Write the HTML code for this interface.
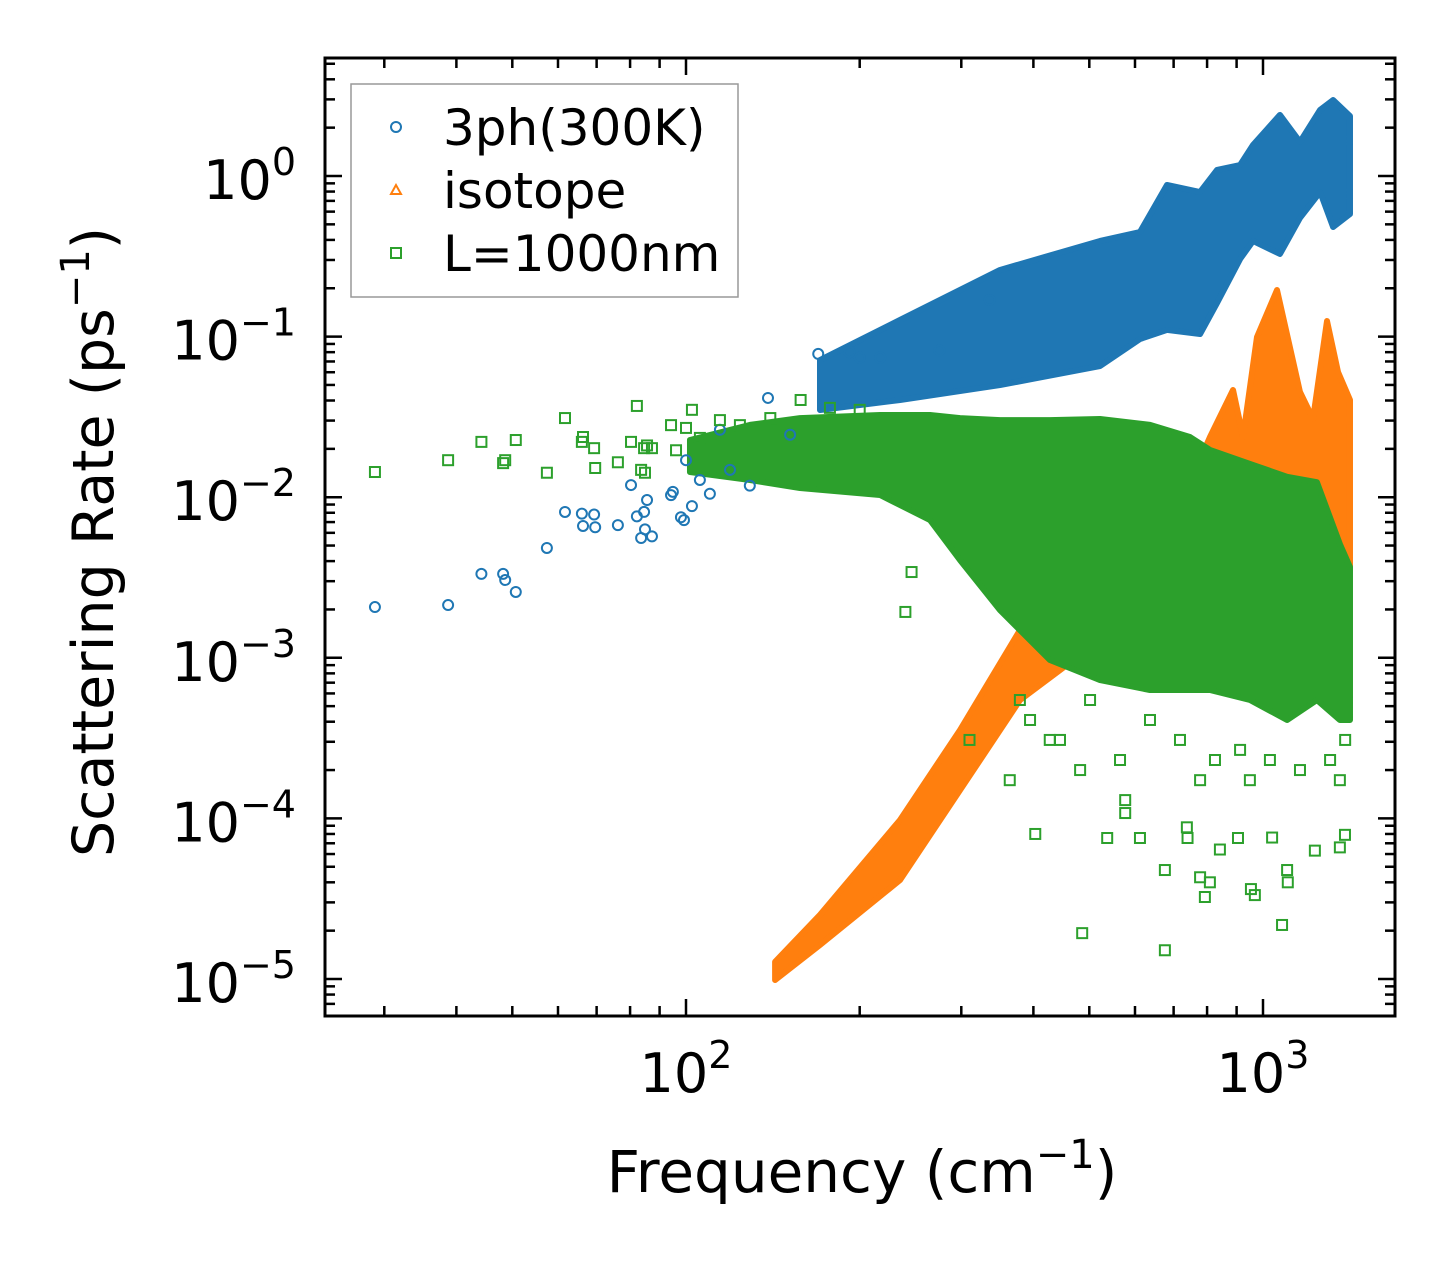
<!DOCTYPE html>
<html><head><meta charset="utf-8">
<style>
html,body{margin:0;padding:0;background:#fff;}
svg{display:block;font-family:"DejaVu Sans","Liberation Sans",sans-serif;}
</style></head>
<body>
<svg id="chart" width="1455" height="1265" viewBox="0 0 1455 1265" xmlns="http://www.w3.org/2000/svg">
<g id="bands"></g>
<g id="points"></g>
<g id="axes"></g>
<g id="legend" transform="translate(351,84)">
  <rect x="0" y="0" width="387" height="213" fill="#fff" stroke="#999" stroke-width="1.5"/>
  <circle cx="45" cy="43" r="5" fill="none" stroke="#1f77b4" stroke-width="2"/>
  <text x="92" y="61" font-size="50">3ph(300K)</text>
  <polygon points="45,101 40,110 50,110" fill="none" stroke="#ff7f0e" stroke-width="2"/>
  <text x="92" y="124" font-size="50">isotope</text>
  <rect x="40" y="164" width="10" height="10" fill="none" stroke="#2ca02c" stroke-width="2"/>
  <text x="92" y="187" font-size="50">L=1000nm</text>
</g>
<text x="862" y="1192" font-size="58" text-anchor="middle">Frequency (cm<tspan font-size="40" dy="-24">−1</tspan><tspan dy="24">)</tspan></text>
<text transform="translate(113,542) rotate(-90)" font-size="57" text-anchor="middle">Scattering Rate (ps<tspan font-size="40" dy="-24">−1</tspan><tspan dy="24">)</tspan></text>
<script>
// ---- data ----
const bandFreq3ph = [170.7, 234.9, 350.1, 521.9, 612.1, 681.7, 777.9, 832.4, 912.6, 960.9, 1070, 1159, 1256, 1323, 1415];
const bandTop3ph = [0.0715, 0.1269, 0.260, 0.394, 0.448, 0.879, 0.795, 1.09, 1.17, 1.56, 2.40, 1.63, 2.58, 2.97, 2.36];
const bandBot3ph = [0.0349, 0.0403, 0.0499, 0.0656, 0.0966, 0.110, 0.1038, 0.162, 0.304, 0.394, 0.327, 0.548, 0.795, 0.481, 0.580];
const bandFreqIso = [142.7, 170.7, 234.9, 298.5, 379.3, 521.9, 777.9, 809.2, 887.3, 923.4, 976.3, 1057.5, 1159, 1221, 1291, 1349, 1415];
const bandTopIso = [1.28e-5, 2.51e-5, 9.77e-5, 3.55e-4, 1.49e-3, 5.41e-3, 0.0171, 0.0237, 0.0465, 0.0237, 0.0994, 0.195, 0.0452, 0.0307, 0.125, 0.0602, 0.0403];
const bandBotIso = [9.86e-6, 1.63e-5, 4.13e-5, 1.50e-4, 5.46e-4, 1.29e-3, 2.29e-3, 3.05e-3, 4.06e-3, 4.06e-3, 4.06e-3, 4.06e-3, 4.06e-3, 4.06e-3, 4.06e-3, 3.52e-3, 3.52e-3];
const bandFreqL = [101.6, 129.1, 157.6, 216.9, 264.8, 298.5, 350.1, 427.3, 521.9, 637.0, 747.1, 809.2, 949.5, 1101, 1240, 1359, 1415];
const bandTopL = [0.0227, 0.0282, 0.0311, 0.0325, 0.0325, 0.0311, 0.0302, 0.0302, 0.0307, 0.0282, 0.0237, 0.0197, 0.0161, 0.0134, 0.0124, 5.11e-3, 3.67e-3];
const bandBotL = [0.01435, 0.0128, 0.0114, 0.01032, 7.21e-3, 4.06e-3, 1.98e-3, 9.69e-4, 7.27e-4, 6.30e-4, 6.30e-4, 6.30e-4, 5.46e-4, 4.10e-4, 5.46e-4, 4.10e-4, 4.10e-4];
const freq3ph = [28.9,38.7,44.2,48.2,48.6,50.7,57.4,61.7,66.0,66.3,69.3,69.6,76.2,80.3,82.2,83.6,84.6,84.9,85.6,87.3,94.2,94.9,98,99.2,100,102.4,105.7,110,114.5,119.2,129,138.7,151.5,169.5,192,200,217,275,336];
const rate3ph = [2.07e-3,2.13e-3,3.33e-3,3.33e-3,3.05e-3,2.57e-3,4.83e-3,8.09e-3,7.9e-3,6.62e-3,7.8e-3,6.5e-3,6.7e-3,0.0119,7.6e-3,5.57e-3,8.1e-3,6.3e-3,9.6e-3,5.7e-3,0.0103,0.0108,7.5e-3,7.2e-3,0.017,8.8e-3,0.0128,0.0105,0.0263,0.0148,0.0118,0.0415,0.0245,0.078,0.08,0.074,0.074,0.082,0.169];
const freqL = [28.9,38.7,44.2,48.2,48.6,50.7,57.4,61.7,66.0,66.3,69.3,69.6,76.2,80.3,82.2,83.6,84.6,84.9,85.6,87.3,94.2,96.1,100,102.4,105.7,114.5,124,140,158,177.6,200,240,246,403,486,577,612,676,676,738,740,778,793,809,842,905,953,968,1037,1079,1101,1104,1230,1359,1387,537,577,778,949,1359,482,427,364,379,310,394.7,444.8,501.5,565.2,637,718,825.6,912.6,1028,1159,1307,1388];
const rateL = [0.01435,0.0170,0.0221,0.0163,0.0170,0.0227,0.0142,0.0311,0.0221,0.0237,0.0202,0.0152,0.0165,0.0221,0.037,0.0148,0.0202,0.0142,0.0210,0.0202,0.0281,0.0196,0.027,0.035,0.0234,0.0302,0.0281,0.0311,0.0403,0.036,0.035,1.93e-3,3.42e-3,8.0e-5,1.93e-5,1.08e-4,7.55e-5,4.77e-5,1.51e-5,8.8e-5,7.55e-5,4.3e-5,3.24e-5,4.0e-5,6.4e-5,7.55e-5,3.63e-5,3.33e-5,7.6e-5,2.17e-5,4.77e-5,4.0e-5,6.3e-5,6.6e-5,7.9e-5,7.55e-5,1.3e-4,1.73e-4,1.73e-4,1.73e-4,2.0e-4,3.08e-4,1.73e-4,5.46e-4,3.08e-4,4.10e-4,3.08e-4,5.46e-4,2.31e-4,4.10e-4,3.08e-4,2.31e-4,2.67e-4,2.31e-4,2.0e-4,2.31e-4,3.08e-4];
const xTickVals = [100, 1000];
const xTickLabels = ["2", "3"];
const yTickVals = [1, 0.1, 0.01, 0.001, 1e-4, 1e-5];
const yTickLabels = ["0", "−1", "−2", "−3", "−4", "−5"];

// ---- axes ----
const X0 = 325, X1 = 1395, Y0 = 58, Y1 = 1016;
const xs = f => 686 + (Math.log10(f) - 2) * 577;
const ys = v => 176 - Math.log10(v) * 160.6;
const NS = "http://www.w3.org/2000/svg";
function mk(tag, parent, attrs) { const e = document.createElementNS(NS, tag); for (const k in attrs) e.setAttribute(k, attrs[k]); parent.appendChild(e); return e; }

const bands = document.getElementById('bands');
function band(fr, top, bot, color, name) {
  let pts = fr.map((f, i) => xs(f) + ',' + ys(top[i]));
  pts = pts.concat(fr.map((f, i) => xs(f) + ',' + ys(bot[i])).reverse());
  const p = mk('polygon', bands, { points: pts.join(' '), fill: color, stroke: color, 'stroke-width': 6, 'stroke-linejoin': 'round' });
  
  
}
band(bandFreq3ph, bandTop3ph, bandBot3ph, '#1f77b4', 'band-3ph');
band(bandFreqIso, bandTopIso, bandBotIso, '#ff7f0e', 'band-isotope');
band(bandFreqL, bandTopL, bandBotL, '#2ca02c', 'band-boundary');

const pg = document.getElementById('points');
freq3ph.forEach((f, i) => {
  const c = mk('circle', pg, { cx: xs(f), cy: ys(rate3ph[i]), r: 5, fill: 'none', stroke: '#1f77b4', 'stroke-width': 2 });
  
  
});
freqL.forEach((f, i) => {
  const s = mk('rect', pg, { x: xs(f) - 5, y: ys(rateL[i]) - 5, width: 10, height: 10, fill: 'none', stroke: '#2ca02c', 'stroke-width': 2 });
  
  
});

const ax = document.getElementById('axes');
const frame = mk('rect', ax, { x: X0, y: Y0, width: X1 - X0, height: Y1 - Y0, fill: 'none', stroke: '#000', 'stroke-width': 3 });


function tick(x1, y1, x2, y2) { mk('line', ax, { x1, y1, x2, y2, stroke: '#000', 'stroke-width': 2.5 }); }
for (let d = 1; d <= 3; d++) for (let m = 1; m <= 9; m++) {
  const x = xs(m * Math.pow(10, d));
  if (x < X0 + 2 || x > X1 - 2) continue;
  const L = m === 1 ? 17 : 10;
  tick(x, Y1, x, Y1 - L); tick(x, Y0, x, Y0 + L);
}
for (let d = -6; d <= 0; d++) for (let m = 1; m <= 9; m++) {
  const y = ys(m * Math.pow(10, d));
  if (y < Y0 + 2 || y > Y1 - 2) continue;
  const L = m === 1 ? 17 : 10;
  tick(X0, y, X0 + L, y); tick(X1, y, X1 - L, y);
}
xTickVals.forEach((v, i) => {
  const t = mk('text', ax, { x: xs(v), y: 1092, 'font-size': 54, 'text-anchor': 'middle' });
  const a = mk('tspan', t, {}); a.textContent = '10';
  const s = mk('tspan', t, { 'font-size': 38, dy: -24 });
  s.textContent = xTickLabels[i];
  
  
});
yTickVals.forEach((v, i) => {
  const t = mk('text', ax, { x: 296, y: ys(v) + 23, 'font-size': 54, 'text-anchor': 'end' });
  const a = mk('tspan', t, {}); a.textContent = '10';
  const s = mk('tspan', t, { 'font-size': 38, dy: -24 });
  s.textContent = yTickLabels[i];
  
  
});
</script>
</svg>
</body></html>
